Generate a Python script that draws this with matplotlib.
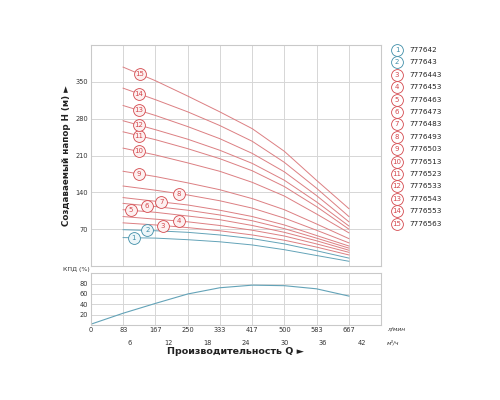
import matplotlib

matplotlib.use("Agg")
import matplotlib.pyplot as plt
import numpy as np

# flow points where the head curves are read (l/min)
q_head = [83, 167, 250, 333, 417, 500, 583, 667]

# head H (m) per pump model at q_head
heads = {
    1: [54, 53, 50, 46, 40, 31, 20, 9],
    2: [69, 67, 64, 59, 52, 42, 29, 15],
    3: [82, 78, 73, 67, 59, 49, 36, 21],
    4: [94, 89, 84, 77, 68, 57, 42, 26],
    5: [107, 102, 95, 88, 77, 64, 48, 30],
    6: [119, 113, 106, 97, 86, 71, 53, 34],
    7: [130, 123, 116, 106, 94, 78, 58, 38],
    8: [152, 144, 135, 124, 110, 91, 68, 44],
    9: [180, 170, 158, 145, 128, 107, 80, 52],
    10: [224, 211, 196, 180, 159, 133, 99, 63],
    11: [255, 240, 223, 204, 181, 151, 113, 70],
    12: [276, 259, 241, 220, 195, 163, 122, 76],
    13: [305, 286, 265, 242, 214, 179, 134, 84],
    14: [338, 316, 293, 267, 237, 197, 148, 94],
    15: [378, 352, 323, 293, 261, 218, 163, 109],
}

# flow at which each curve carries its numbered marker (l/min)
label_q = {1: 110, 2: 146, 3: 185, 4: 228, 5: 103, 6: 144, 7: 182, 8: 228,
           9: 123, 10: 123, 11: 123, 12: 123, 13: 123, 14: 123, 15: 126}

models = ["777642", "777643", "7776443", "7776453", "7776463", "7776473",
          "7776483", "7776493", "7776503", "7776513", "7776523", "7776533",
          "7776543", "7776553", "7776563"]

# efficiency curve
q_eff = [0, 83, 167, 250, 333, 417, 500, 583, 667]
eff = [2, 23, 42, 60, 72, 77, 76, 70, 56]

q_ticks = [0, 83.33, 166.67, 250, 333.33, 416.67, 500, 583.33, 666.67, 750]
q_tick_labels = ["0", "83", "167", "250", "333", "417", "500", "583", "667", ""]
m3h_ticks = [6, 12, 18, 24, 30, 36, 42]
h_ticks = [70, 140, 210, 280, 350]

RED = "#dc7f82"
RED_DARK = "#d4484d"
BLUE = "#63a3b8"
BLUE_DARK = "#3f8ea8"
GRID = "#d6d6d6"
SPINE = "#c9c9c9"


def color_of(n):
    return (BLUE, BLUE_DARK) if n <= 2 else (RED, RED_DARK)


def style_axes(ax):
    for s in ax.spines.values():
        s.set_color(SPINE)
        s.set_linewidth(0.8)
    ax.grid(True, color=GRID, linewidth=0.7)
    ax.tick_params(length=0, labelsize=4.8, colors="#333333", pad=2)
    ax.set_axisbelow(True)


fig = plt.figure(figsize=(5, 4), dpi=100)

ax = fig.add_axes([0.182, 0.335, 0.58, 0.5525])
style_axes(ax)
ax.set_xlim(0, 750)
ax.set_ylim(0, 420)
ax.set_xticks(q_ticks)
ax.set_xticklabels([])
ax.set_yticks(h_ticks)

for n, h in heads.items():
    line_c, mark_c = color_of(n)
    ax.plot(q_head, h, color=line_c, linewidth=0.7)
    lq = label_q[n]
    ly = np.interp(lq, q_head, h) if lq >= q_head[0] else h[0]
    ax.plot(lq, ly, "o", ms=8.5, mfc="#fdf0f0" if n > 2 else "#edf6f9",
            mec=mark_c, mew=0.6, zorder=4)
    ax.text(lq, ly, str(n), ha="center", va="center", fontsize=5,
            color=mark_c, zorder=5)

ax.set_ylabel("Создаваемый напор H (м) ►", fontsize=6.3, fontweight="bold",
              color="#222222", labelpad=3)

axe = fig.add_axes([0.182, 0.187, 0.58, 0.13])
style_axes(axe)
axe.set_xlim(0, 750)
axe.set_ylim(0, 100)
axe.set_xticks(q_ticks)
axe.set_xticklabels(q_tick_labels)
axe.set_yticks([20, 40, 60, 80])
axe.tick_params(axis="x", pad=1)
axe.plot(q_eff, eff, color=BLUE, linewidth=0.8)
axe.text(-0.005, 1.02, "КПД (%)", transform=axe.transAxes, fontsize=4.5,
         ha="right", va="bottom", color="#333333")

# second x scale in m3/h
for m in m3h_ticks:
    axe.text(m * 1000 / 60, -0.34, str(m), transform=axe.get_xaxis_transform(),
             ha="center", va="center", fontsize=4.8, color="#333333")
axe.text(1.02, -0.08, "л/мин", transform=axe.transAxes, fontsize=4.3,
         ha="left", va="center", color="#333333", style="italic")
axe.text(1.02, -0.34, "м³/ч", transform=axe.transAxes, fontsize=4.3,
         ha="left", va="center", color="#333333", style="italic")

fig.text(0.47, 0.12, "Производительность Q ►", fontsize=6.8,
         fontweight="bold", ha="center", va="center", color="#222222")

# legend column on the right
leg = fig.add_axes([0, 0, 1, 1])
leg.set_xlim(0, 500)
leg.set_ylim(400, 0)
leg.axis("off")
for i, name in enumerate(models):
    n = i + 1
    _, mark_c = color_of(n)
    y = 50 + i * 12.4
    leg.plot(397, y, "o", ms=8.5, mfc="white", mec=mark_c, mew=0.6)
    leg.text(397, y, str(n), ha="center", va="center", fontsize=5,
             color=mark_c)
    leg.text(409, y, name, ha="left", va="center", fontsize=5.2,
             color="#222222")

fig.savefig("out.png", dpi=100)
